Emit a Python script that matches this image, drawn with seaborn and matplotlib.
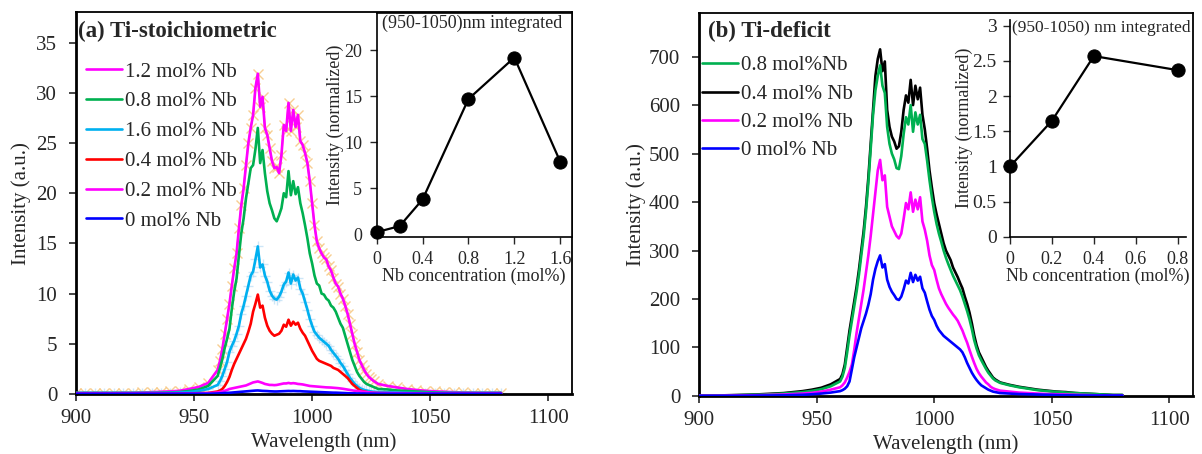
import numpy as np
import matplotlib
matplotlib.use("Agg")
import matplotlib.pyplot as plt
import seaborn as sns

sns.set_style("ticks")
plt.rcParams['font.family'] = ['Liberation Serif', 'DejaVu Serif']

# wavelength sampling (nm)
wl = list(range(900, 960, 4)) + list(range(960, 1027)) + list(range(1028, 1081, 4))

# ---- panel (a) Ti-stoichiometric spectra ----
a_12 = [0.1, 0.1, 0.1, 0.1, 0.1, 0.12, 0.12, 0.15, 0.18, 0.22, 0.26, 0.32, 0.5, 0.7, 1.1,
        2.4, 3.3, 4.5, 6.0, 7.5, 9.0, 10.8, 12.5, 14.0, 16.5,
        18.8, 20.5, 22.8, 25.0, 26.5, 27.8, 30.5, 31.9, 28.6, 29.6,
        26.5, 25.8, 24.5, 23.2, 22.5, 22.6, 22.0, 23.8, 26.8, 26.2,
        29.0, 26.2, 28.3, 26.6, 27.8, 25.2, 24.8, 24.0, 23.0, 21.2,
        19.0, 16.8, 15.2, 14.5, 14.0, 13.6, 13.4, 12.7, 12.3, 11.6,
        11.0, 10.7, 10.0, 9.5, 8.8, 8.0, 7.0, 6.0, 5.0, 4.2,
        3.4, 2.9, 2.4, 2.0, 1.7, 1.5, 1.3,
        1.0, 0.8, 0.65, 0.5, 0.4, 0.32, 0.26, 0.22, 0.18, 0.15, 0.14, 0.12, 0.12, 0.12]
a_08 = [0.1, 0.1, 0.1, 0.1, 0.1, 0.1, 0.1, 0.1, 0.1, 0.12, 0.15, 0.2, 0.3, 0.45, 0.8,
        1.8, 2.6, 3.5, 4.6, 5.5, 6.5, 8.5, 10.2, 11.5, 13.8,
        16.0, 17.5, 19.5, 21.0, 22.5, 22.8, 24.4, 26.5, 23.0, 24.3,
        22.0, 20.2, 19.0, 18.3, 17.5, 17.2, 17.8, 18.5, 20.0, 19.6,
        22.2, 19.8, 21.2, 19.9, 20.6, 19.0, 18.0, 16.8, 15.5, 14.0,
        13.0, 11.8, 11.0, 10.8, 10.0, 9.9, 9.5, 9.3, 8.8, 8.6,
        8.2, 7.6, 7.0, 6.6, 5.8, 5.0, 4.2, 3.4, 2.8, 2.2,
        1.8, 1.5, 1.2, 1.0, 0.9, 0.8, 0.7,
        0.5, 0.45, 0.35, 0.3, 0.25, 0.2, 0.15, 0.12, 0.1, 0.1, 0.1, 0.1, 0.1, 0.1]
a_16 = [0.1, 0.1, 0.1, 0.1, 0.1, 0.1, 0.1, 0.1, 0.1, 0.1, 0.12, 0.15, 0.2, 0.3, 0.5,
        0.9, 1.3, 1.8, 2.5, 3.2, 4.2, 4.8, 5.3, 6.0, 6.8,
        8.0, 8.8, 9.8, 10.8, 11.8, 12.2, 13.4, 14.7, 12.6, 12.9,
        11.8, 11.2, 10.3, 9.8, 9.5, 9.4, 9.7, 10.2, 10.9, 11.2,
        12.1, 11.0, 11.9, 11.3, 11.6, 10.5, 10.0, 9.2, 8.4, 7.5,
        6.8, 6.2, 5.9, 5.6, 5.4, 5.2, 5.0, 4.8, 4.4, 4.1,
        3.8, 3.5, 3.1, 2.8, 2.4, 2.0, 1.6, 1.3, 1.0, 0.8,
        0.6, 0.5, 0.4, 0.35, 0.3, 0.25, 0.22,
        0.2, 0.18, 0.15, 0.12, 0.1, 0.1, 0.1, 0.1, 0.1, 0.1, 0.1, 0.1, 0.1, 0.1]
a_04 = [0.05, 0.05, 0.05, 0.05, 0.05, 0.05, 0.05, 0.05, 0.05, 0.05, 0.05, 0.05, 0.05, 0.08, 0.1,
        0.25, 0.35, 0.5, 0.8, 1.2, 1.7, 2.4, 3.0, 3.5, 4.0,
        4.5, 5.0, 5.5, 6.2, 7.0, 8.2, 9.0, 9.9, 8.6, 8.8,
        7.6, 6.8, 6.3, 6.0, 5.8, 5.9, 6.0, 6.3, 6.9, 6.7,
        7.4, 6.8, 7.2, 6.9, 7.1, 6.5, 6.1, 5.8, 5.3, 4.8,
        4.3, 3.9, 3.5, 3.3, 3.2, 3.1, 3.0, 2.9, 2.8, 2.6,
        2.5, 2.4, 2.2, 2.0, 1.8, 1.6, 1.3, 1.0, 0.8, 0.6,
        0.4, 0.3, 0.25, 0.2, 0.15, 0.12, 0.1,
        0.08, 0.07, 0.06, 0.05, 0.05, 0.05, 0.05, 0.05, 0.05, 0.05, 0.05, 0.05, 0.05, 0.05]
a_02 = [0.05, 0.05, 0.05, 0.05, 0.05, 0.05, 0.05, 0.05, 0.05, 0.05, 0.05, 0.05, 0.05, 0.06, 0.08,
        0.15, 0.2, 0.25, 0.32, 0.4, 0.5, 0.55, 0.6, 0.65, 0.7,
        0.75, 0.8, 0.85, 0.95, 1.05, 1.15, 1.2, 1.25, 1.18, 1.1,
        1.0, 0.95, 0.9, 0.9, 0.88, 0.9, 0.95, 1.0, 1.05, 1.05,
        1.1, 1.05, 1.08, 1.05, 1.0, 0.98, 0.95, 0.9, 0.85, 0.8,
        0.78, 0.76, 0.74, 0.72, 0.7, 0.68, 0.66, 0.65, 0.64, 0.62,
        0.6, 0.58, 0.55, 0.52, 0.48, 0.44, 0.4, 0.36, 0.32, 0.3,
        0.27, 0.24, 0.22, 0.19, 0.16, 0.14, 0.12,
        0.1, 0.09, 0.08, 0.07, 0.06, 0.05, 0.05, 0.05, 0.05, 0.05, 0.05, 0.05, 0.05, 0.05]
a_00 = [0.02, 0.02, 0.02, 0.02, 0.02, 0.02, 0.02, 0.02, 0.02, 0.02, 0.02, 0.02, 0.02, 0.02, 0.02,
        0.05, 0.06, 0.08, 0.1, 0.11, 0.12, 0.14, 0.16, 0.18, 0.2,
        0.22, 0.24, 0.26, 0.28, 0.3, 0.32, 0.34, 0.35, 0.33, 0.31,
        0.3, 0.29, 0.27, 0.26, 0.25, 0.25, 0.26, 0.27, 0.28, 0.29,
        0.3, 0.29, 0.3, 0.29, 0.28, 0.28, 0.26, 0.25, 0.24, 0.23,
        0.22, 0.21, 0.2, 0.19, 0.18, 0.17, 0.16, 0.15, 0.14, 0.13,
        0.13, 0.12, 0.11, 0.1, 0.09, 0.08, 0.07, 0.06, 0.06, 0.05,
        0.05, 0.04, 0.04, 0.03, 0.03, 0.03, 0.03,
        0.02, 0.02, 0.02, 0.02, 0.02, 0.02, 0.02, 0.02, 0.02, 0.02, 0.02, 0.02, 0.02, 0.02]

# ---- panel (b) Ti-deficit spectra ----
b_08 = [1, 1, 1, 1.2, 1.5, 2, 2.5, 3, 4, 5, 6.5, 8, 10.5, 14, 20,
        30, 40, 58, 90, 125, 155, 185, 215, 250, 290,
        330, 380, 440, 510, 580, 630, 660, 682, 640, 625,
        555, 520, 500, 488, 470, 468, 495, 540, 575, 560,
        600, 545, 585, 560, 580, 530, 520, 485, 445, 410,
        380, 355, 335, 318, 300, 285, 272, 260, 248, 238,
        228, 218, 205, 190, 175, 158, 138, 115, 98, 84,
        74, 65, 56, 48, 42, 36, 32,
        27, 22, 18, 15, 12, 10, 8.5, 7, 6, 5, 4, 3, 2, 2]
b_04 = [1, 1, 1, 1.5, 2, 2.5, 3, 4, 5, 6, 8, 10, 13, 17, 24,
        35, 45, 65, 100, 135, 165, 195, 225, 260, 300,
        340, 390, 450, 520, 590, 660, 695, 715, 670, 690,
        590, 555, 535, 525, 510, 515, 545, 590, 620, 605,
        652, 600, 640, 612, 636, 580, 550, 510, 465, 430,
        398, 375, 355, 335, 315, 300, 290, 280, 265, 255,
        245, 233, 222, 205, 190, 172, 150, 125, 105, 90,
        80, 70, 60, 52, 45, 38, 34,
        28, 23, 19, 16, 13, 11, 9, 8, 6, 5, 4, 3, 2, 2]
b_02 = [0.5, 0.5, 0.5, 0.8, 1, 1.2, 1.5, 2, 2.5, 3, 4, 5, 6.5, 9, 13,
        18, 22, 28, 38, 50, 65, 95, 130, 160, 190,
        220, 255, 290, 330, 375, 420, 465, 487, 445, 455,
        390, 370, 350, 340, 330, 325, 335, 365, 398, 385,
        420, 380, 405, 385, 410, 360, 343, 320, 290, 270,
        260, 240, 222, 210, 200, 190, 182, 175, 168, 162,
        155, 145, 135, 122, 110, 95, 81, 68, 56, 47,
        40, 34, 28, 24, 19, 16, 14,
        11, 9, 7, 6, 5, 4, 3.5, 3, 2.5, 2, 1.5, 1.2, 1, 1]
b_00 = [0.3, 0.3, 0.3, 0.4, 0.5, 0.6, 0.8, 1, 1.2, 1.5, 2, 2.5, 3.5, 5, 7,
        10, 12, 15, 20, 30, 55, 80, 100, 120, 140,
        155, 170, 188, 210, 240, 262, 278, 290, 265, 272,
        240, 225, 215, 208, 200, 198, 205, 220, 238, 232,
        254, 235, 250, 238, 246, 222, 213, 195, 178, 165,
        157, 145, 136, 130, 124, 120, 116, 112, 108, 104,
        100, 96, 90, 80, 68, 58, 48, 40, 33, 27,
        22, 19, 16, 13, 11, 9, 8,
        6, 5, 4, 3.5, 3, 2.5, 2, 1.5, 1.2, 1, 1, 1, 1, 1]

# ---- insets: integrated intensity ----
nb_a = [0, 0.2, 0.4, 0.8, 1.2, 1.6]
int_a = [0.25, 0.9, 3.8, 14.7, 19.2, 7.9]
nb_b = [0, 0.2, 0.4, 0.8]
int_b = [1.0, 1.65, 2.57, 2.37]

FS = 15
fig = plt.figure(figsize=(12.02, 4.54), dpi=100)
ax1 = fig.add_axes([0.0632, 0.1322, 0.4126, 0.8403])
ax2 = fig.add_axes([0.5815, 0.1278, 0.4110, 0.8436])

LW = 1.9
# faint marker traces under the 1.2 and 1.6 curves
ax1.plot(wl, a_12, color='#f29a7e', lw=1.3, marker='x', ms=7, mew=1.0,
         mec='#f7c67f', alpha=0.85, zorder=1)
ax1.plot(wl, a_16, color='#9fd0f2', lw=1.0, marker='+', ms=7, mew=1.0,
         mec='#b9dcf5', alpha=0.7, zorder=1)
sa = [(a_12, '#ff00ff', '1.2 mol% Nb'), (a_08, '#00b050', '0.8 mol% Nb'),
      (a_16, '#00b0f0', '1.6 mol% Nb'), (a_04, '#ff0000', '0.4 mol% Nb'),
      (a_02, '#ff00ff', '0.2 mol% Nb'), (a_00, '#0000ff', '0 mol% Nb')]
for y, c, lab in sa:
    sns.lineplot(x=wl, y=y, ax=ax1, color=c, lw=LW, label=lab, sort=False,
                 estimator=None, zorder=3)

sb = [(b_08, '#00b050', '0.8 mol%Nb'), (b_04, '#000000', '0.4 mol% Nb'),
      (b_02, '#ff00ff', '0.2 mol% Nb'), (b_00, '#0000ff', '0 mol% Nb')]
for y, c, lab in [sb[1], sb[0], sb[2], sb[3]]:
    sns.lineplot(x=wl, y=y, ax=ax2, color=c, lw=LW, label=lab, sort=False,
                 estimator=None, zorder=3)

for ax in (ax1, ax2):
    ax.set_xlim(900, 1110)
    ax.set_xticks([900, 950, 1000, 1050, 1100])
    ax.set_xlabel('Wavelength (nm)', fontsize=FS, labelpad=3)
    ax.tick_params(direction='out', length=5, width=1.2, labelsize=FS)
    ax.tick_params(axis='x', pad=6)
    ax.tick_params(axis='y', pad=8.5)
    for s in ax.spines.values():
        s.set_color('black')
        s.set_linewidth(1.3)
    ax.spines['left'].set_linewidth(2)
    ax.spines['bottom'].set_linewidth(2)

ax1.set_ylabel('Intensity (a.u.)', fontsize=FS, labelpad=4)
ax2.set_ylabel('Intensity (a.u.)', fontsize=FS, labelpad=2)
ax1.set_ylim(0, 38)
ax1.set_yticks(range(0, 36, 5))
ax2.set_ylim(0, 790)
ax2.set_yticks(range(0, 701, 100))

ax1.text(0.005, 0.949, '(a) Ti-stoichiometric', transform=ax1.transAxes,
         fontsize=16.5, fontweight='bold', va='center', ha='left')
ax2.text(0.018, 0.951, '(b) Ti-deficit', transform=ax2.transAxes,
         fontsize=16.5, fontweight='bold', va='center', ha='left')

h, l = ax1.get_legend_handles_labels()
ax1.legend(h, l, loc='upper left', bbox_to_anchor=(0.02, 0.870), frameon=False,
           fontsize=FS, handlelength=1.73, handletextpad=0.15, labelspacing=0.49,
           borderaxespad=0, borderpad=0)
h, l = ax2.get_legend_handles_labels()
order = [1, 0, 2, 3]
ax2.legend([h[i] for i in order], [l[i] for i in order], loc='upper left',
           bbox_to_anchor=(0.007, 0.888), frameon=False, fontsize=FS,
           handlelength=1.7, handletextpad=0.15, labelspacing=0.42,
           borderaxespad=0, borderpad=0)

# ---- inset (a) ----
ia = fig.add_axes([0.3134, 0.4786, 0.1622, 0.4921])
sns.lineplot(x=nb_a, y=int_a, ax=ia, color='black', lw=1.6, marker='o', ms=9.5,
             mec='black', mfc='black', estimator=None, sort=False, clip_on=False)
ia.set_xlim(0, 1.7)
ia.set_ylim(-0.25, 24)
ia.set_xticks([0, 0.4, 0.8, 1.2, 1.6])
ia.set_xticklabels(['0', '0.4', '0.8', '1.2', '1.6'])
ia.set_yticks([0, 5, 10, 15, 20])
ia.set_xlabel('Nb concentration (mol%)', fontsize=13, labelpad=0)
ia.set_ylabel('Intensity (normalized)', fontsize=13, labelpad=0)
ia.text(0.026, 0.955, '(950-1050)nm integrated', transform=ia.transAxes,
        fontsize=13, va='center', ha='left')

# ---- inset (b) ----
ib = fig.add_axes([0.8403, 0.4786, 0.1464, 0.4784])
sns.lineplot(x=nb_b, y=int_b, ax=ib, color='black', lw=1.6, marker='o', ms=9.5,
             mec='black', mfc='black', estimator=None, sort=False, clip_on=False)
ib.set_xlim(0, 0.84)
ib.set_ylim(0, 3.09)
ib.set_xticks([0, 0.2, 0.4, 0.6, 0.8])
ib.set_xticklabels(['0', '0.2', '0.4', '0.6', '0.8'])
ib.set_yticks([0, 0.5, 1, 1.5, 2, 2.5, 3])
ib.set_yticklabels(['0', '0.5', '1', '1.5', '2', '2.5', '3'])
ib.set_xlabel('Nb concentration (mol%)', fontsize=13, labelpad=0)
ib.set_ylabel('Intensity (normalized)', fontsize=13, labelpad=0)
ib.spines['top'].set_visible(False)
ib.spines['right'].set_visible(False)
ib.text(0.01, 0.961, '(950-1050) nm integrated', transform=ib.transAxes,
        fontsize=12.5, va='center', ha='left')

for ax in (ia, ib):
    ax.tick_params(direction='out', length=5, width=1, labelsize=13)
    ax.tick_params(axis='x', pad=5)
    ax.tick_params(axis='y', pad=5.5)
    for s in ax.spines.values():
        s.set_color('black')
        s.set_linewidth(1.2)
    ax.set_facecolor('white')
ib.tick_params(axis='y', labelsize=14, pad=4.5)

fig.savefig('out.png', dpi=100)
